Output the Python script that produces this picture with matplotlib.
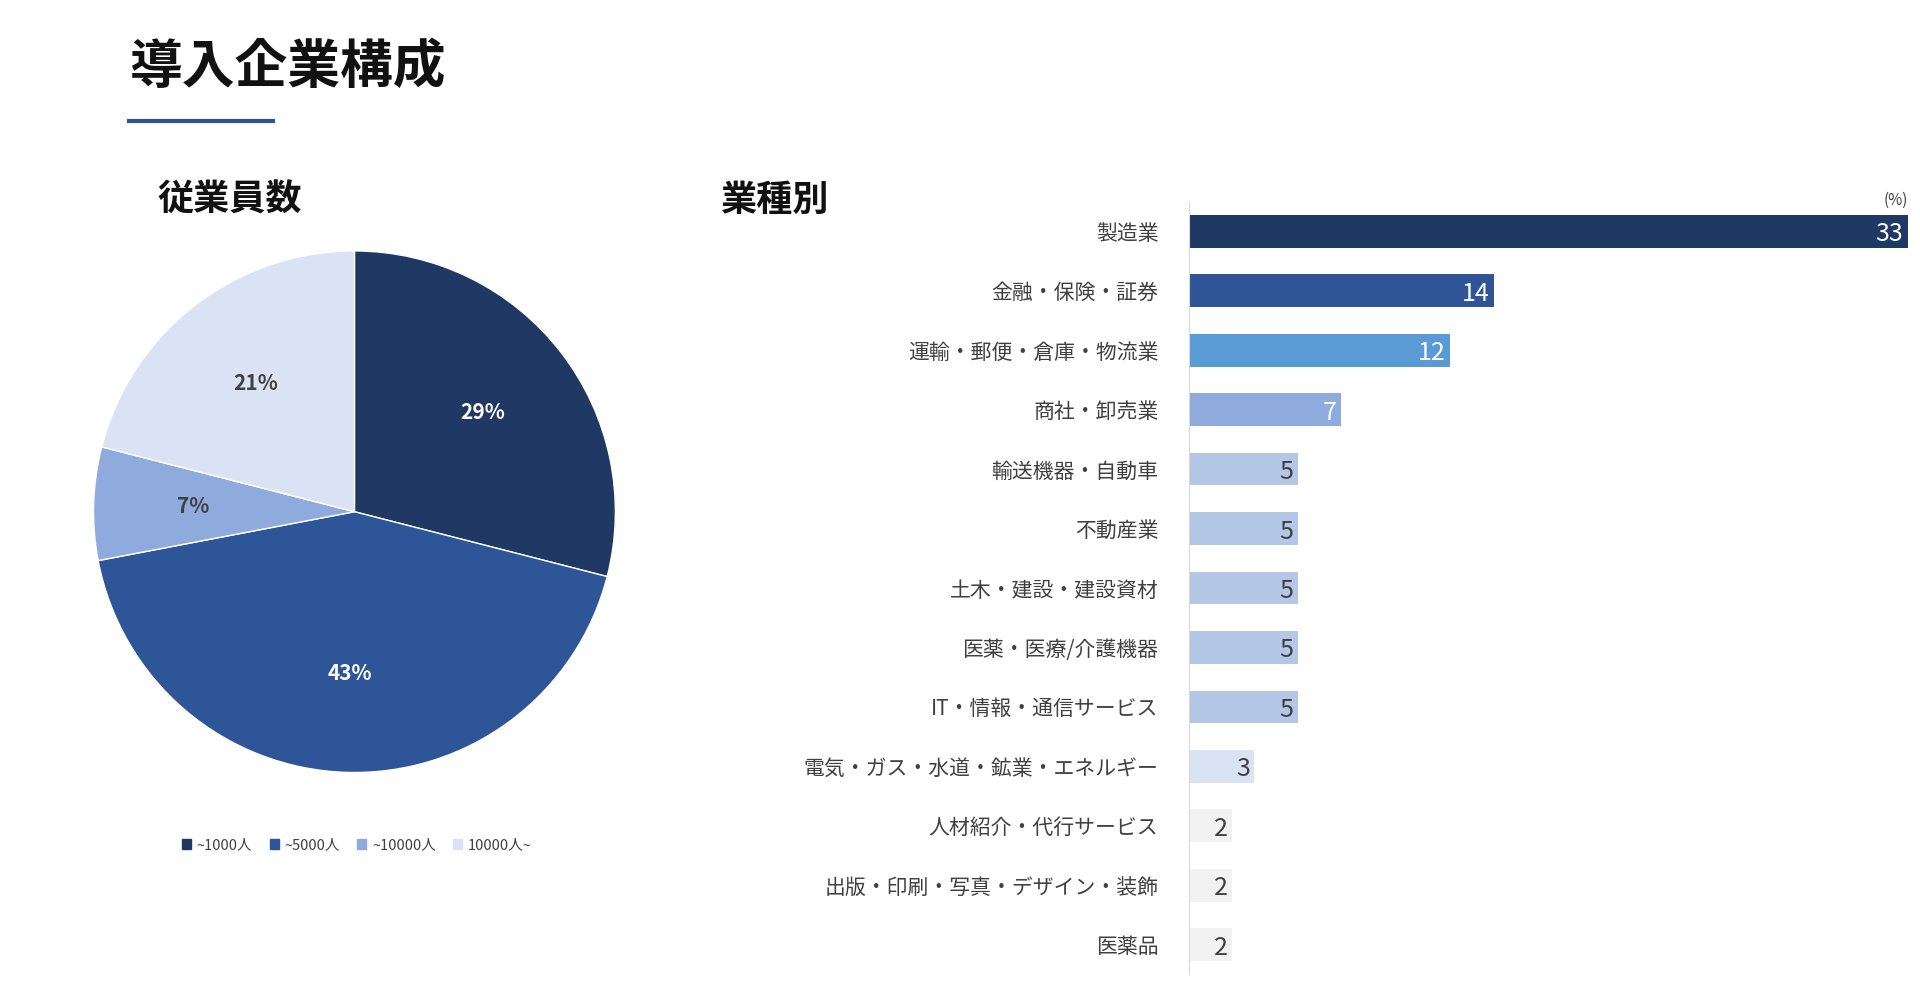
import matplotlib
matplotlib.use("Agg")
import matplotlib.pyplot as plt
from matplotlib.patches import Patch
from matplotlib.lines import Line2D

plt.rcParams['font.family'] = ['Noto Sans CJK JP', 'DejaVu Sans']

pie_labels = ['~1000人', '~5000人', '~10000人', '10000人~']
pie_values = [29, 43, 7, 21]
pie_colors = ['#1f3864', '#2e5597', '#8faadc', '#dae3f3']
pie_text_colors = ['white', 'white', '#404040', '#404040']

categories = ['製造業', '金融・保険・証券', '運輸・郵便・倉庫・物流業', '商社・卸売業',
              '輸送機器・自動車', '不動産業', '土木・建設・建設資材', '医薬・医療/介護機器',
              'IT・情報・通信サービス', '電気・ガス・水道・鉱業・エネルギー',
              '人材紹介・代行サービス', '出版・印刷・写真・デザイン・装飾', '医薬品']
values = [33, 14, 12, 7, 5, 5, 5, 5, 5, 3, 2, 2, 2]
bar_colors = ['#1f3864', '#2f5597', '#5b9bd5', '#8faadc'] + ['#b4c7e7'] * 5 + ['#dae3f3'] + ['#f2f2f2'] * 3
value_text_colors = ['white'] * 4 + ['#404040'] * 9

fig = plt.figure(figsize=(19.2, 10.05), dpi=100)
W, H = 1560, 817
def fx(x): return x / W
def fy(y): return 1 - y / H

fig.text(fx(105), fy(55), '導入企業構成', fontsize=38, fontweight='bold', va='center', ha='left', color='#111111')
fig.add_artist(Line2D([fx(105), fx(222)], [fy(98), fy(98)], color='#2e5597', lw=3))
fig.text(fx(128), fy(163), '従業員数', fontsize=26, fontweight='bold', va='center', ha='left', color='#111111')
fig.text(fx(585), fy(163), '業種別', fontsize=26, fontweight='bold', va='center', ha='left', color='#111111')

# Pie
r = 212
axp = fig.add_axes([fx(288 - r), fy(416 + r), 2 * r / W, 2 * r / H])
wedges, texts = axp.pie(pie_values, colors=pie_colors, startangle=90, counterclock=False,
                        wedgeprops=dict(edgecolor='white', linewidth=1), radius=1)
import numpy as np
ang = 90
for v, w, tc in zip(pie_values, wedges, pie_text_colors):
    mid = np.deg2rad(ang - v * 3.6 / 2)
    ang -= v * 3.6
    axp.text(0.62 * np.cos(mid), 0.62 * np.sin(mid), f'{v}%', ha='center', va='center',
             fontsize=15, fontweight='bold', color=tc)
axp.set_aspect('auto')
axp.set_xlim(-1, 1); axp.set_ylim(-1, 1)
handles = [Patch(color=c, label=l) for c, l in zip(pie_colors, pie_labels)]
fig.legend(handles=handles, loc='center', bbox_to_anchor=(fx(290), fy(687)), ncol=4, frameon=False,
           fontsize=10.5, handlelength=0.6, handleheight=0.6, columnspacing=1.2, handletextpad=0.4,
           labelcolor='#404040')

# Bars
top, bottom = 188, 768
step = (bottom - top) / (len(categories) - 1)
axb = fig.add_axes([fx(966), fy(bottom + step / 2), fx(1550) - fx(966), (bottom - top + step) / H])
y = np.arange(len(categories))
axb.barh(y, values, height=0.55, color=bar_colors)
axb.set_ylim(len(categories) - 0.5, -0.5)
axb.set_xlim(0, 33)
axb.set_yticks(y)
axb.set_yticklabels(categories, fontsize=15, color='#404040')
axb.tick_params(axis='y', length=0, pad=22)
axb.set_xticks([])
for s in ['top', 'right', 'bottom']:
    axb.spines[s].set_visible(False)
axb.spines['left'].set_color('#d9d9d9')
for i, (v, tc) in enumerate(zip(values, value_text_colors)):
    axb.text(v - 0.2, i + 0.05, str(v), ha='right', va='center', fontsize=18, color=tc)
fig.text(fx(1550), fy(163), '(%)', fontsize=11, ha='right', va='center', color='#404040')

fig.savefig('out.png', dpi=100, facecolor='white')
